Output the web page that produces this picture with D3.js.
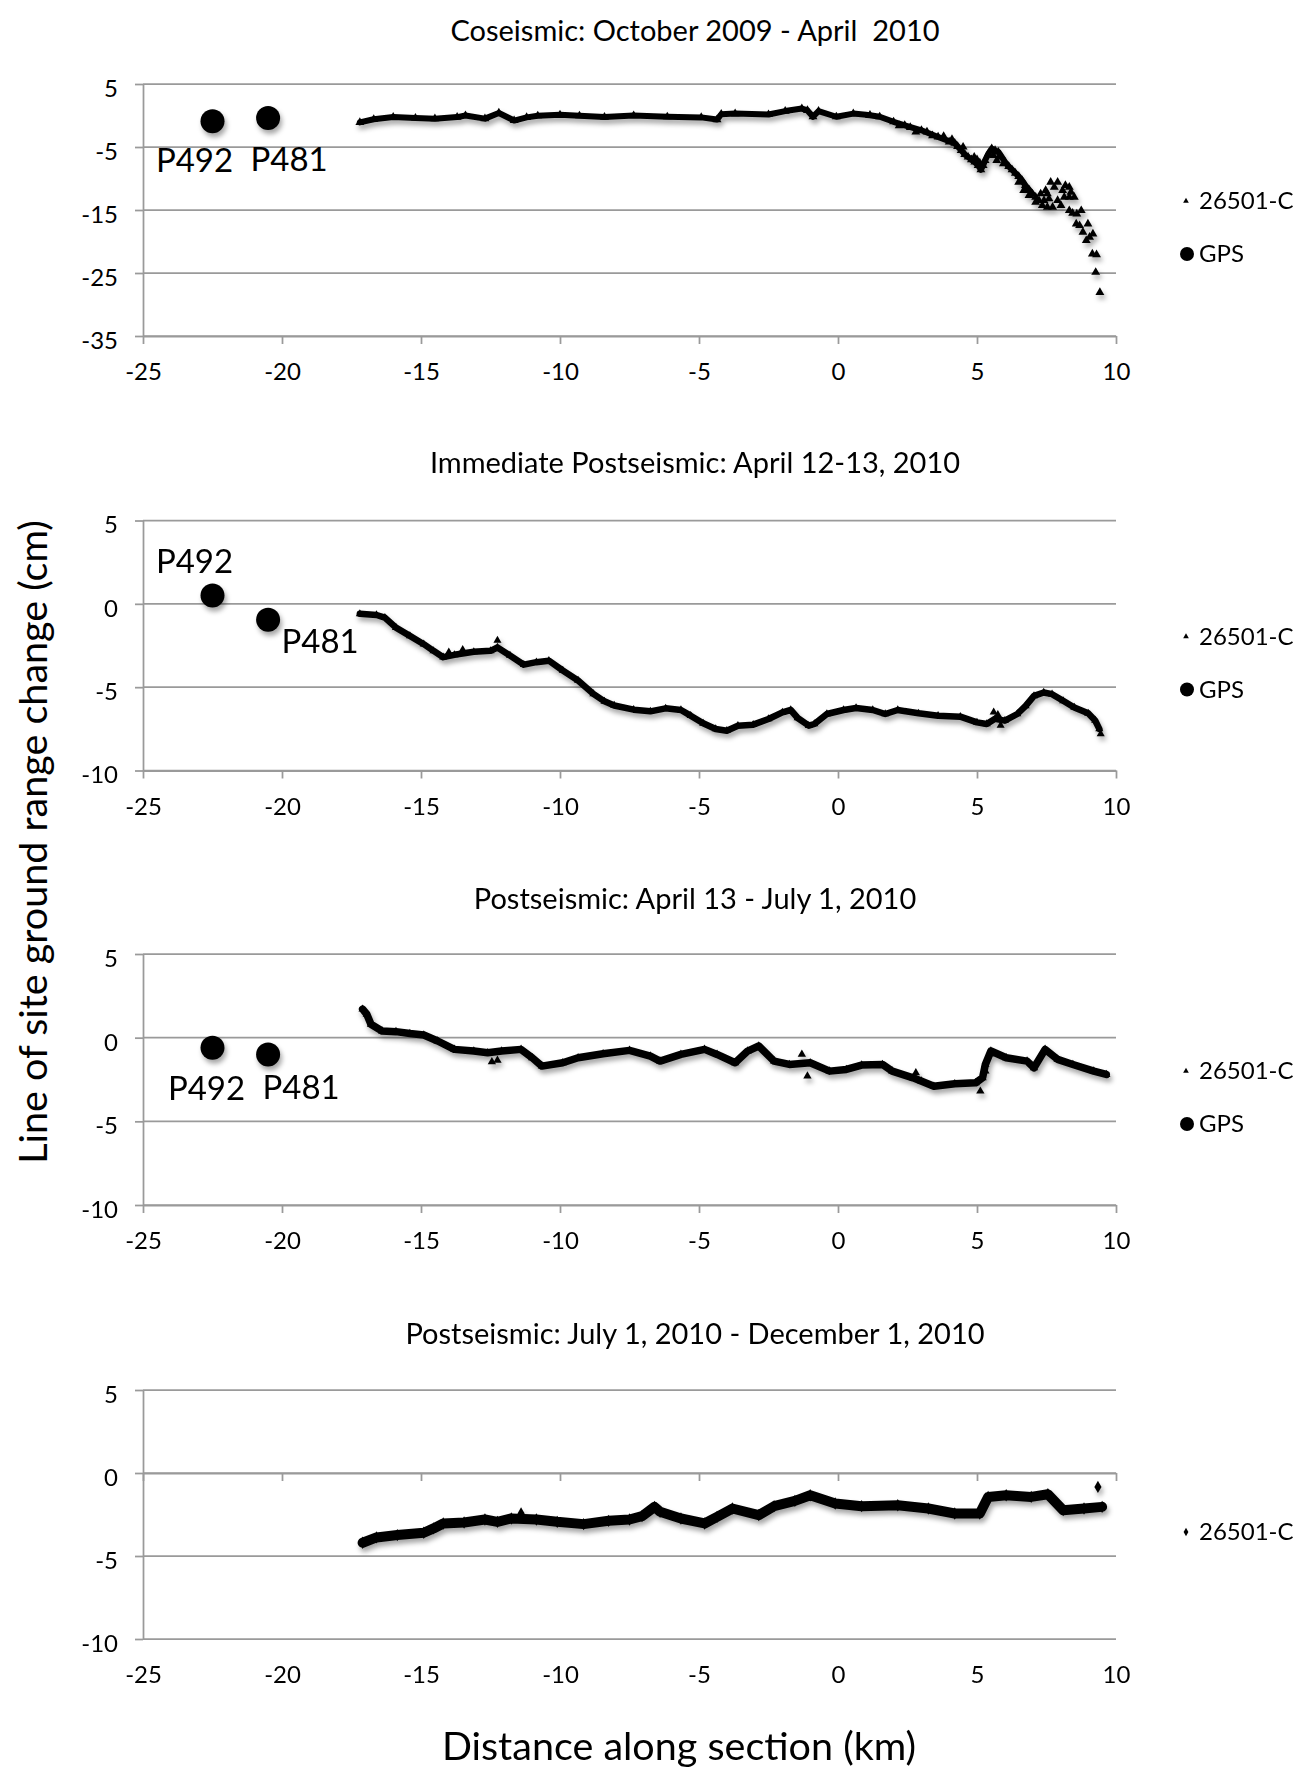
<!DOCTYPE html>
<html>
<head>
<meta charset="utf-8">
<script src="https://cdn.jsdelivr.net/npm/d3@7"></script>
<style>
  body { margin: 0; background: #fff; }
  svg text { font-family: Lato, "Open Sans", sans-serif; fill: #000; }
  .axis .domain, .axis .tick line { stroke: #9a9a9a; stroke-width: 1.75px; }
  .axis text { font-family: Lato, "Open Sans", sans-serif; font-size: 24px; fill: #000; }
  .title { font-size: 29px; white-space: pre; }
  .site { font-size: 33px; }
  .leg { font-size: 24px; }
  .axistitle { font-size: 39.5px; }
</style>
</head>
<body>
<div id="chart"></div>
<script>
// Panel titles
const titles = [
  "Coseismic: October 2009 - April  2010",
  "Immediate Postseismic: April 12-13, 2010",
  "Postseismic: April 13 - July 1, 2010",
  "Postseismic: July 1, 2010 - December 1, 2010"
];

// Tick values
const xTicks = [-25, -20, -15, -10, -5, 0, 5, 10];
const yTicksCo = [-35, -25, -15, -5, 5];
const yTicksPost = [-10, -5, 0, 5];

// GPS sites (km along section, cm range change per interval)
const gpsSites = ["P492", "P481"];
const gpsKm = [-22.5, -20.5];
const gpsCo = [-0.9, -0.4];
const gpsImm = [0.5, -0.95];
const gpsPost = [-0.6, -1.0];

// 26501-C, coseismic
const coKm = [-17.2, -16.7, -16.0, -15.2, -14.5, -13.7, -13.4, -12.7, -12.2, -11.65, -11.2, -10.8, -10.0, -9.3, -8.4,
  -7.35, -6.14, -4.92, -4.35, -4.2, -3.7, -2.5, -1.9, -1.3, -1.1, -0.9, -0.7, -0.06, 0.55, 1.15, 1.5, 2.0, 2.4,
  3.0, 3.6, 4.2, 4.43, 4.56, 4.68, 4.8, 4.92, 5.04, 5.14, 5.22, 5.29, 5.41, 5.53, 5.65, 5.77, 5.89, 6.01, 6.14,
  6.26, 6.38, 6.5, 6.62, 6.74, 6.87, 6.99];
const coCm = [-1.1, -0.6, -0.25, -0.4, -0.5, -0.25, 0.0, -0.5, 0.4, -0.8, -0.3, -0.05, 0.1, -0.05, -0.25,
  0.0, -0.2, -0.3, -0.65, 0.2, 0.3, 0.15, 0.7, 1.1, 0.8, -0.2, 0.7, -0.2, 0.3, 0.05, -0.2, -1.0, -1.55,
  -2.35, -3.4, -4.4, -5.53, -6.17, -6.59, -7.02, -7.39, -7.92, -8.61, -7.92, -7.12, -6.06, -5.27, -5.53, -5.8, -6.59, -7.39, -8.08,
  -8.61, -9.14, -9.67, -10.3, -11.1, -11.79, -12.43];
// scattered points off the main trace
const coExtraKm = [2.2, 2.6, 2.8, 3.2, 3.4, 3.8, 4.0, 4.1, 4.3, 4.5, 4.9, 5.0, 5.1, 5.59, 5.71, 5.83, 5.95,
  7.11, 7.23, 7.35, 7.53, 7.72, 7.9, 8.02, 8.14, 8.32, 8.5, 8.32, 8.44, 8.59, 8.75, 8.57, 8.69, 8.81, 8.99,
  8.93, 9.05, 9.17, 9.15, 9.3, 9.27, 9.42, 6.5, 6.68, 6.87, 7.11, 7.29, 7.47, 7.65, 7.78, 7.9, 8.08, 8.18,
  8.32, 8.38, 7.59, 7.41, 7.53];
const coExtraCm = [-1.6, -1.9, -2.6, -2.6, -3.2, -3.3, -4.2, -3.8, -4.9, -5.0, -6.6, -7.0, -7.5, -6.33, -7.12, -6.33, -7.65,
  -12.96, -13.49, -14.28, -14.55, -14.55, -13.49, -14.28, -12.96, -12.96, -12.96, -15.08, -15.5, -15.61, -15.08, -17.2, -17.47, -18.53, -17.2,
  -19.85, -19.32, -18.79, -21.98, -22.08, -24.89, -28.08, -10.57, -11.9, -12.69, -13.75, -12.43, -11.9, -10.57, -11.37, -10.57, -11.9, -11.1,
  -11.37, -12.16, -13.22, -13.49, -12.43];

// 26501-C, immediate postseismic
const immKm = [-17.2, -16.6, -16.3, -15.9, -15.4, -14.9, -14.55, -14.2, -13.8, -13.1, -12.5, -12.25, -11.8, -11.3,
  -10.85, -10.4, -9.9, -9.35, -8.8, -8.4, -8.05, -7.35, -6.75, -6.2, -5.65, -5.3, -4.85, -4.4, -4.0, -3.6,
  -3.05, -2.5, -2.0, -1.7, -1.45, -1.05, -0.85, -0.4, 0.2, 0.65, 1.25, 1.7, 2.15, 2.9, 3.6, 4.4, 5.0, 5.35,
  5.65, 6.0, 6.45, 6.75, 7.05, 7.4, 7.7, 8.1, 8.5, 9.0, 9.25, 9.4];
const immCm = [-0.6, -0.67, -0.83, -1.43, -1.92, -2.42, -2.82, -3.2, -3.06, -2.88, -2.82, -2.62, -3.1, -3.65,
  -3.5, -3.41, -4.0, -4.6, -5.4, -5.85, -6.1, -6.35, -6.45, -6.27, -6.37, -6.71, -7.17, -7.51, -7.61, -7.31,
  -7.25, -6.91, -6.51, -6.37, -6.85, -7.31, -7.21, -6.61, -6.37, -6.25, -6.37, -6.61, -6.37, -6.57, -6.71, -6.77, -7.11, -7.21,
  -6.9, -7.01, -6.61, -6.12, -5.52, -5.32, -5.42, -5.82, -6.22, -6.57, -7.0, -7.5];
const immExtraKm = [-12.25, -14.0, -13.5, 5.6, 5.75, 5.85, 9.45];
const immExtraCm = [-2.2, -2.9, -2.75, -6.5, -6.65, -7.3, -7.8];

// 26501-C, postseismic April 13 - July 1
const postKm = [-17.1, -16.95, -16.8, -16.4, -15.9, -15.4, -14.9, -14.4, -13.8, -13.1, -12.6, -12.1, -11.4, -11.0,
  -10.65, -9.9, -9.35, -8.45, -7.5, -6.75, -6.4, -5.65, -4.8, -4.35, -3.7, -3.25, -2.85, -2.3, -1.75, -1.0,
  -0.3, 0.3, 0.85, 1.6, 1.95, 2.7, 3.45, 4.2, 4.95, 5.2, 5.3, 5.5, 6.05, 6.8, 7.05, 7.45, 7.9, 8.45, 9.2, 9.65];
const postCm = [1.7, 1.4, 0.8, 0.4, 0.36, 0.25, 0.16, -0.2, -0.7, -0.8, -0.9, -0.8, -0.7, -1.2,
  -1.7, -1.5, -1.2, -0.96, -0.76, -1.1, -1.4, -1.0, -0.7, -1.0, -1.5, -0.8, -0.5, -1.4, -1.6, -1.5,
  -2.0, -1.9, -1.64, -1.6, -2.0, -2.4, -2.9, -2.75, -2.7, -2.4, -1.6, -0.8, -1.2, -1.4, -1.8, -0.7, -1.3, -1.6, -2.0, -2.2];
const postExtraKm = [-12.45, -12.25, -1.1, -1.3, 5.12, 5.3, 2.8, 3.0];
const postExtraCm = [-1.44, -1.35, -2.3, -1.0, -3.2, -2.0, -2.1, -2.6];

// 26501-C, postseismic July 1 - December 1
const lateKm = [-17.1, -16.6, -15.85, -14.9, -14.55, -14.2, -13.45, -12.7, -12.25, -11.75, -10.85, -10.1, -9.15,
  -8.25, -7.5, -7.05, -6.6, -6.4, -5.65, -4.8, -4.35, -3.8, -2.85, -2.3, -1.55, -1.0, -0.1, 0.85, 2.15, 3.25,
  4.2, 5.1, 5.4, 6.05, 6.95, 7.55, 8.1, 8.85, 9.5];
const lateCm = [-4.2, -3.88, -3.74, -3.6, -3.34, -3.04, -2.98, -2.8, -2.94, -2.74, -2.8, -2.94, -3.08,
  -2.88, -2.8, -2.6, -2.04, -2.34, -2.74, -3.04, -2.64, -2.14, -2.54, -2.0, -1.68, -1.34, -1.84, -2.0, -1.94, -2.14,
  -2.44, -2.44, -1.44, -1.34, -1.44, -1.28, -2.24, -2.14, -2.04];
const lateExtraKm = [-11.4, 9.35];
const lateExtraCm = [-2.44, -0.84];

// Layout of the four stacked panels
const panels = [
  { title: titles[0], titleY: 41, top: 84, height: 252, domain: [-35, 5], ticks: yTicksCo, axisAt: -35,
    km: coKm, cm: coCm, exKm: coExtraKm, exCm: coExtraCm, gps: gpsCo, marker: d3.symbolTriangle,
    markerSize: 34, lineWidth: 6, labelOff: [[-18, 51], [21, 53]], legY: [117, 170] },
  { title: titles[1], titleY: 473, top: 520.5, height: 250, domain: [-10, 5], ticks: yTicksPost, axisAt: -10,
    km: immKm, cm: immCm, exKm: immExtraKm, exCm: immExtraCm, gps: gpsImm, marker: d3.symbolTriangle,
    markerSize: 28, lineWidth: 6.5, labelOff: [[-18, -23], [52, 33]], legY: [116, 169] },
  { title: titles[2], titleY: 909, top: 954, height: 251, domain: [-10, 5], ticks: yTicksPost, axisAt: -10,
    km: postKm, cm: postCm, exKm: postExtraKm, exCm: postExtraCm, gps: gpsPost, marker: d3.symbolTriangle,
    markerSize: 30, lineWidth: 7.5, labelOff: [[-6, 52], [33, 45]], legY: [117, 170] },
  { title: titles[3], titleY: 1344, top: 1390, height: 249, domain: [-10, 5], ticks: yTicksPost, axisAt: 0,
    km: lateKm, cm: lateCm, exKm: lateExtraKm, exCm: lateExtraCm, gps: null, marker: d3.symbolDiamond,
    markerSize: 44, lineWidth: 10, labelOff: null, legY: [142] }
];

const svg = d3.select("#chart").append("svg")
    .attr("width", 1298)
    .attr("height", 1775);

// soft shadow like the spreadsheet markers
svg.append("defs").append("filter")
    .attr("id", "shadow")
    .attr("filterUnits", "userSpaceOnUse")
    .attr("x", 0).attr("y", 0).attr("width", 1298).attr("height", 1775)
  .append("feDropShadow")
    .attr("dx", 2).attr("dy", 4)
    .attr("stdDeviation", 2.5)
    .attr("flood-color", "#000")
    .attr("flood-opacity", 0.35);

// shared x scale
const x = d3.scaleLinear()
    .domain([-25, 10])
    .range([143, 1116]);

panels.forEach(p => {
  const y = d3.scaleLinear()
      .domain(p.domain)
      .range([p.top + p.height, p.top]);

  const g = svg.append("g");

  // title
  g.append("text")
      .attr("class", "title")
      .attr("x", 695)
      .attr("y", p.titleY)
      .attr("text-anchor", "middle")
      .text(p.title);

  // horizontal gridlines
  g.append("g").selectAll("line")
    .data(p.ticks)
    .join("line")
      .attr("x1", x(-25)).attr("x2", x(10))
      .attr("y1", d => y(d)).attr("y2", d => y(d))
      .attr("stroke", "#9a9a9a")
      .attr("stroke-width", 1.75);

  // y axis
  g.append("g")
      .attr("class", "axis")
      .attr("transform", "translate(" + x(-25) + ",0)")
      .call(d3.axisLeft(y).tickValues(p.ticks).tickSize(8).tickSizeOuter(0)
        .tickPadding(17).tickFormat(d => String(d)))
      .selectAll("text").attr("dy", "0.52em");

  // x axis (crosses at axisAt, labels stay at the bottom)
  g.append("g")
      .attr("class", "axis")
      .attr("transform", "translate(0," + y(p.axisAt) + ")")
      .call(d3.axisBottom(x).tickValues(xTicks).tickSize(8).tickSizeOuter(0)
        .tickPadding(y(p.domain[0]) - y(p.axisAt) + 19).tickFormat(d => String(d)));

  // InSAR profile
  const band = g.append("g").attr("filter", "url(#shadow)");
  band.append("path")
      .datum(d3.zip(p.km, p.cm))
      .attr("d", d3.line().x(d => x(d[0])).y(d => y(d[1])))
      .attr("fill", "none")
      .attr("stroke", "#000")
      .attr("stroke-width", p.lineWidth)
      .attr("stroke-linejoin", "round")
      .attr("stroke-linecap", "round");
  band.selectAll("path.pt")
    .data(d3.zip(p.km.concat(p.exKm), p.cm.concat(p.exCm)))
    .join("path")
      .attr("class", "pt")
      .attr("transform", d => "translate(" + x(d[0]) + "," + y(d[1]) + ")")
      .attr("d", d3.symbol(p.marker, p.markerSize))
      .attr("fill", "#000");

  // GPS sites
  if (p.gps) {
    const sites = d3.zip(gpsKm, p.gps);
    g.append("g").attr("filter", "url(#shadow)")
      .selectAll("circle")
      .data(sites)
      .join("circle")
        .attr("cx", d => x(d[0]))
        .attr("cy", d => y(d[1]))
        .attr("r", 12)
        .attr("fill", "#000");
    g.append("g").selectAll("text")
      .data(sites)
      .join("text")
        .attr("class", "site")
        .attr("x", (d, j) => x(d[0]) + p.labelOff[j][0])
        .attr("y", (d, j) => y(d[1]) + p.labelOff[j][1])
        .attr("text-anchor", "middle")
        .text((d, j) => gpsSites[j]);
  }

  // legend
  const leg = g.append("g");
  leg.append("path")
      .attr("transform", "translate(1186," + (p.top + p.legY[0]) + ")")
      .attr("d", d3.symbol(p.marker, p.marker === d3.symbolDiamond ? 20 : 14));
  leg.append("text")
      .attr("class", "leg")
      .attr("x", 1199)
      .attr("y", p.top + p.legY[0])
      .attr("dy", "0.35em")
      .text("26501-C");
  if (p.gps) {
    leg.append("circle")
        .attr("cx", 1187)
        .attr("cy", p.top + p.legY[1])
        .attr("r", 7);
    leg.append("text")
        .attr("class", "leg")
        .attr("x", 1199)
        .attr("y", p.top + p.legY[1])
        .attr("dy", "0.35em")
        .text("GPS");
  }
});

// axis titles
svg.append("text")
    .attr("class", "axistitle")
    .attr("x", 679)
    .attr("y", 1760)
    .attr("text-anchor", "middle")
    .text("Distance along section (km)");

svg.append("text")
    .attr("class", "axistitle")
    .attr("transform", "translate(47,842) rotate(-90)")
    .attr("text-anchor", "middle")
    .text("Line of site ground range change (cm)");
</script>
</body>
</html>
